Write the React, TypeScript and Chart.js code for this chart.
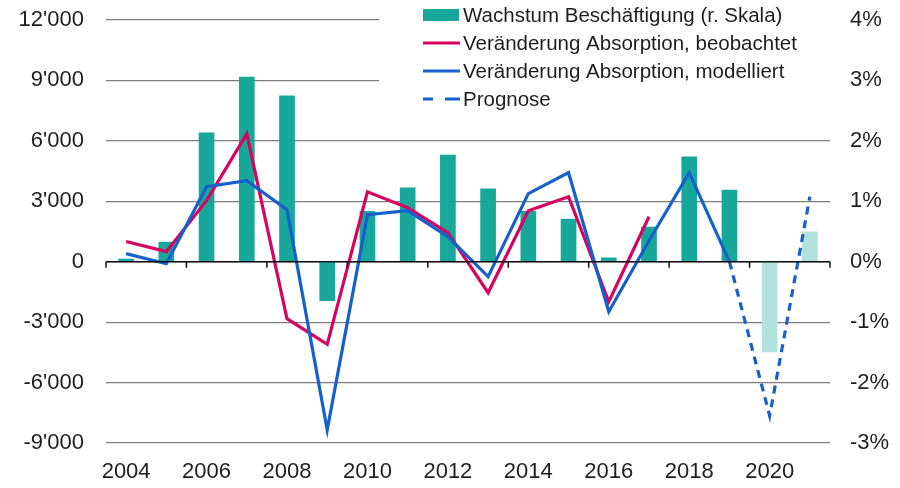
import { Chart, registerables } from "chart.js";
import { useEffect, useRef } from "react";

Chart.register(...registerables);

// Jahre (Kategorien)
const years = ["2004", "2005", "2006", "2007", "2008", "2009", "2010", "2011", "2012", "2013", "2014", "2015", "2016", "2017", "2018", "2019", "2020", "2021"];
const forecastBarYears = ["2020", "2021"];
const forecastLineStart = "2019";

// Wachstum Beschäftigung in % (rechte Skala)
const employmentGrowth = [0.05, 0.33, 2.14, 3.06, 2.75, -0.65, 0.84, 1.23, 1.77, 1.21, 0.84, 0.71, 0.07, 0.58, 1.74, 1.19, -1.5, 0.5];

// Veränderung Absorption (linke Skala)
const absorptionObserved = [1000, 500, 3030, 6350, -2830, -4100, 3470, 2680, 1440, -1540, 2530, 3230, -1990, 2230, null, null, null, null];
const absorptionModelled = [400, -100, 3720, 4020, 2580, -8350, 2330, 2530, 1240, -740, 3380, 4420, -2480, 1040, 4420, 0, -7650, 3230];

const leftTicks = [-9000, -6000, -3000, 0, 3000, 6000, 9000, 12000];
const rightTicks = [-3, -2, -1, 0, 1, 2, 3, 4];

const TEAL = "#17a89b";
const TEAL_LIGHT = "#b3e2dd";
const RED = "#d6045f";
const BLUE = "#1560cc";
const TEXT = "#1e1e1e";
const FONT = "'Liberation Sans', Arial, sans-serif";

const fmtThousands = (v: number) => {
  const s = Math.abs(v).toString().replace(/\B(?=(\d{3})+(?!\d))/g, "'");
  return (v < 0 ? "-" : "") + s;
};

// Nulllinie mit Tickmarks + Legende mit weissem Hintergrund
const overlayPlugin = {
  id: "overlay",
  beforeDatasetsDraw(chart: any) {
    const { ctx, chartArea } = chart;
    ctx.save();
    ctx.fillStyle = "#fff";
    ctx.fillRect(379, 0, chartArea.right - 379 + 1, 116);
    ctx.restore();
  },
  afterDatasetsDraw(chart: any) {
    const { ctx, chartArea, scales } = chart;
    const y0 = scales.y.getPixelForValue(0);
    const x = scales.x;
    const half = (x.getPixelForValue(1) - x.getPixelForValue(0)) / 2;
    ctx.save();
    ctx.strokeStyle = "#111";
    ctx.lineWidth = 1.5;
    ctx.beginPath();
    ctx.moveTo(chartArea.left, y0);
    ctx.lineTo(chartArea.right, y0);
    for (let i = 0; i <= years.length; i += 2) {
      const px = i < years.length ? x.getPixelForValue(i) - half : chartArea.right;
      ctx.moveTo(px, y0);
      ctx.lineTo(px, y0 + 6);
    }
    ctx.stroke();
    ctx.restore();
  },
  afterDraw(chart: any) {
    const { ctx } = chart;
    const lx = 423;
    const items = [
      { label: "Wachstum Beschäftigung (r. Skala)", kind: "box", color: TEAL },
      { label: "Veränderung Absorption, beobachtet", kind: "line", color: RED },
      { label: "Veränderung Absorption, modelliert", kind: "line", color: BLUE },
      { label: "Prognose", kind: "dash", color: BLUE },
    ];
    ctx.save();
    ctx.font = `20.5px ${FONT}`;
    ctx.textBaseline = "middle";
    items.forEach((it, i) => {
      const cy = 15 + i * 28;
      if (it.kind === "box") {
        ctx.fillStyle = it.color;
        ctx.fillRect(lx, cy - 6, 36, 12);
      } else {
        ctx.strokeStyle = it.color;
        ctx.lineWidth = 3.2;
        ctx.beginPath();
        if (it.kind === "line") {
          ctx.moveTo(lx, cy);
          ctx.lineTo(lx + 37, cy);
        } else {
          ctx.moveTo(lx, cy);
          ctx.lineTo(lx + 10, cy);
          ctx.moveTo(lx + 22, cy);
          ctx.lineTo(lx + 37, cy);
        }
        ctx.stroke();
      }
      ctx.fillStyle = TEXT;
      ctx.fillText(it.label, 463, cy + 1);
    });
    ctx.restore();
  },
};

const ChartBeschaeftigung = () => {
  const canvasRef = useRef<HTMLCanvasElement>(null);
  const chartRef = useRef<Chart | null>(null);

  useEffect(() => {
    if (!canvasRef.current) return;
    const dashFrom = years.indexOf(forecastLineStart);

    const config: any = {
      type: "bar",
      data: {
        labels: years,
        datasets: [
          {
            type: "line",
            label: "Veränderung Absorption, modelliert",
            data: absorptionModelled,
            borderColor: BLUE,
            borderWidth: 3.2,
            pointRadius: 0,
            tension: 0,
            yAxisID: "y",
            order: 1,
            segment: {
              borderDash: (c: any) => (c.p0DataIndex >= dashFrom ? [8, 6] : undefined),
            },
          },
          {
            type: "line",
            label: "Veränderung Absorption, beobachtet",
            data: absorptionObserved,
            borderColor: RED,
            borderWidth: 3.2,
            pointRadius: 0,
            tension: 0,
            yAxisID: "y",
            order: 2,
          },
          {
            type: "bar",
            label: "Wachstum Beschäftigung (r. Skala)",
            data: employmentGrowth,
            backgroundColor: years.map((y) => (forecastBarYears.includes(y) ? TEAL_LIGHT : TEAL)),
            barPercentage: 0.39,
            categoryPercentage: 1,
            yAxisID: "y1",
            order: 3,
          },
        ],
      },
      options: {
        responsive: true,
        maintainAspectRatio: false,
        animation: false,
        layout: { padding: { top: 20, bottom: 0, left: 0, right: 0 } },
        plugins: {
          legend: { display: false },
          tooltip: { enabled: false },
        },
        scales: {
          x: {
            offset: true,
            grid: { display: false },
            border: { display: false },
            ticks: {
              autoSkip: false,
              maxRotation: 0,
              padding: 8,
              color: TEXT,
              font: { family: FONT, size: 22 },
              callback: (_v: any, i: number) => (i % 2 === 0 ? years[i] : ""),
            },
            afterFit: (s: any) => {
              s.height = 45;
            },
          },
          y: {
            position: "left",
            min: -9000,
            max: 12000,
            afterBuildTicks: (s: any) => {
              s.ticks = leftTicks.map((v) => ({ value: v }));
            },
            grid: { color: "#7d7d7d", lineWidth: 1.2, drawTicks: false },
            border: { display: false },
            ticks: {
              padding: 22,
              color: TEXT,
              font: { family: FONT, size: 22 },
              callback: (v: any) => fmtThousands(Number(v)),
            },
            afterFit: (s: any) => {
              s.width = 106;
              s.paddingTop = 0;
              s.paddingBottom = 0;
            },
          },
          y1: {
            position: "right",
            min: -3,
            max: 4,
            afterBuildTicks: (s: any) => {
              s.ticks = rightTicks.map((v) => ({ value: v }));
            },
            grid: { drawOnChartArea: false, drawTicks: false },
            border: { display: false },
            ticks: {
              padding: 20,
              color: TEXT,
              font: { family: FONT, size: 22 },
              callback: (v: any) => `${v}%`,
            },
            afterFit: (s: any) => {
              s.width = 70;
              s.paddingTop = 0;
              s.paddingBottom = 0;
            },
          },
        },
      },
      plugins: [overlayPlugin],
    };

    chartRef.current = new Chart(canvasRef.current, config);
    return () => {
      chartRef.current?.destroy();
      chartRef.current = null;
    };
  }, []);

  return <canvas ref={canvasRef} />;
};

export default function App() {
  return (
    <div style={{ position: "absolute", left: 0, top: 0, width: 900, height: 488, background: "#fff" }}>
      <ChartBeschaeftigung />
    </div>
  );
}
